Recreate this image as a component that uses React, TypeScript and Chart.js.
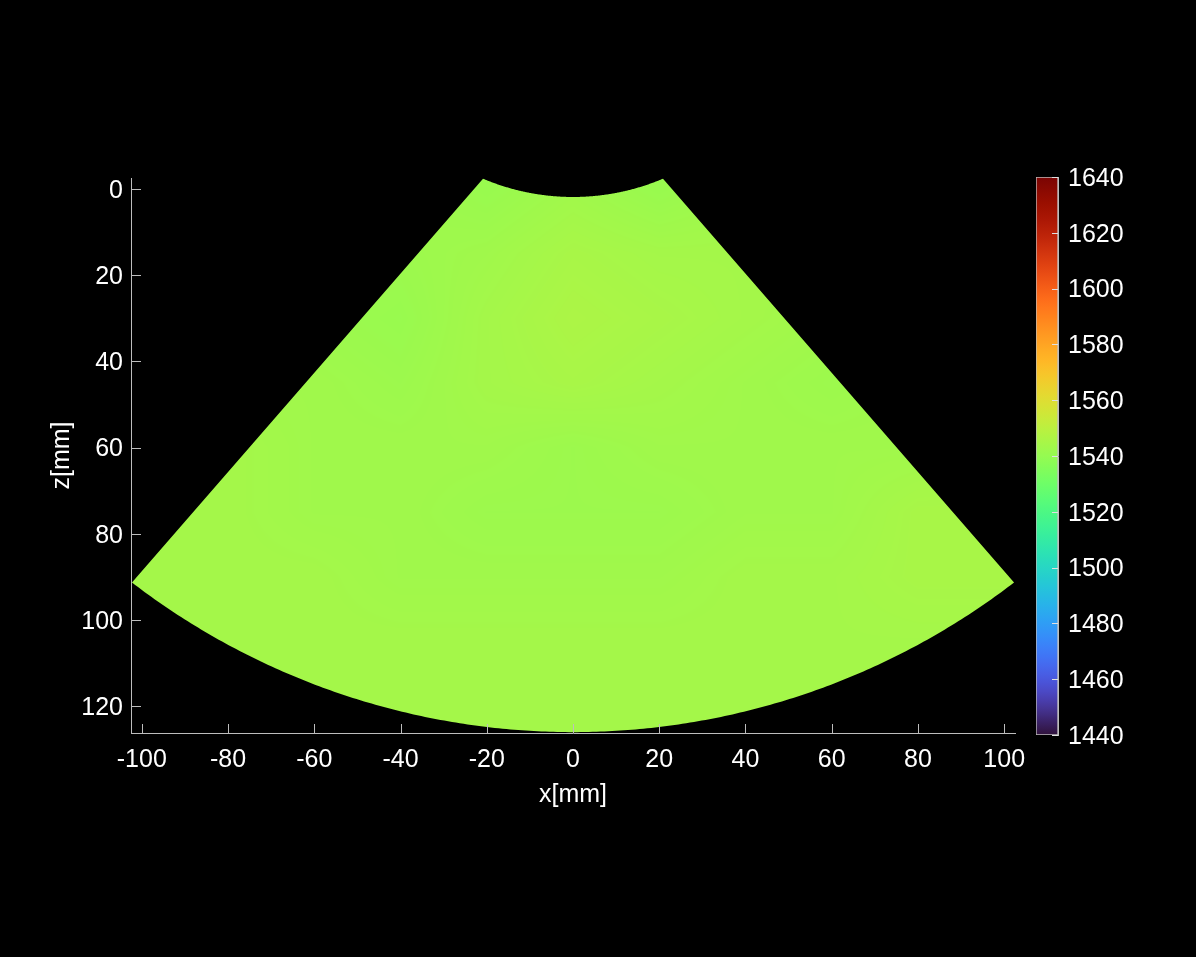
import React, { useEffect, useRef } from "react";
import { Chart, registerables } from "chart.js";

Chart.register(...registerables);

// ---------- data ----------
const xTicks = [-100, -80, -60, -40, -20, 0, 20, 40, 60, 80, 100];
const zTicks = [0, 20, 40, 60, 80, 100, 120];
const cbTicks = [1440, 1460, 1480, 1500, 1520, 1540, 1560, 1580, 1600, 1620, 1640];
const xLimits = [-102.5, 102.5];
const zLimits = [-2.5, 126.2];
const cLimits = [1440, 1640];

// speed-of-sound map (m/s), sampled on a coarse grid (mm)
const gridX = [-100, -80, -60, -40, -20, 0, 20, 40, 60, 80, 100];
const gridZ = [0, 15, 30, 45, 60, 75, 90, 105, 120];
const sosZ0 = [1544, 1544, 1544, 1543, 1541, 1543, 1541, 1543, 1544, 1544, 1544];
const sosZ15 = [1544, 1544, 1543, 1542, 1543, 1545, 1544, 1544, 1544, 1544, 1544];
const sosZ30 = [1544, 1543, 1542, 1541, 1544, 1546, 1545, 1544, 1543, 1544, 1544];
const sosZ45 = [1544, 1543, 1543, 1542, 1544, 1545, 1544, 1543, 1542, 1543, 1544];
const sosZ60 = [1544, 1544, 1543, 1543, 1543, 1542, 1543, 1543, 1543, 1543, 1544];
const sosZ75 = [1544, 1544, 1543, 1543, 1542, 1542, 1542, 1543, 1543, 1545, 1545];
const sosZ90 = [1544, 1544, 1544, 1543, 1543, 1543, 1543, 1544, 1544, 1545, 1545];
const sosZ105 = [1544, 1544, 1544, 1544, 1544, 1544, 1544, 1544, 1544, 1544, 1544];
const sosZ120 = [1544, 1544, 1544, 1544, 1544, 1544, 1544, 1544, 1544, 1544, 1544];
const sosRows = [sosZ0, sosZ15, sosZ30, sosZ45, sosZ60, sosZ75, sosZ90, sosZ105, sosZ120];

// imaging sector geometry (mm / degrees)
const fanApexZ = -26.35;
const fanHalfAngleDeg = 41.0;
const fanInnerArc = { centerZ: -51.6, radius: 53.5 };
const fanOuterArc = { centerZ: -42.1, radius: 168.1 };

// ---------- style ----------
const FONT = "'Liberation Sans', Arial, Helvetica, sans-serif";
const AXIS_COLOR = "#bdbdbd";
const TEXT_COLOR = "#ffffff";
const W = 1196;
const H = 957;

function clamp255(v: number) {
  return Math.max(0, Math.min(255, Math.round(v)));
}
function turboPoly(t: number): number[] {
  const r = 34.61 + t * (1172.33 - t * (10793.56 - t * (33300.12 - t * (38394.49 - t * 14825.05))));
  const g = 23.31 + t * (557.33 + t * (1225.33 - t * (3574.96 - t * (1073.77 + t * 707.56))));
  const b = 27.2 + t * (3211.1 - t * (15327.97 - t * (27814 - t * (22569.18 - t * 6838.66))));
  return [r, g, b];
}
function turbo(t: number): number[] {
  t = Math.max(0, Math.min(1, t));
  const lo = [48, 18, 59];
  const hi = [122, 4, 3];
  let c: number[];
  if (t < 0.05) {
    const p = turboPoly(0.05);
    const f = t / 0.05;
    c = lo.map((v, i) => v + (p[i] - v) * f);
  } else if (t > 0.95) {
    const p = turboPoly(0.95);
    const f = (t - 0.95) / 0.05;
    c = p.map((v, i) => v + (hi[i] - v) * f);
  } else c = turboPoly(t);
  return c.map(clamp255);
}
function colorFor(v: number) {
  return turbo((v - cLimits[0]) / (cLimits[1] - cLimits[0]));
}

function rayCircle(theta: number, arc: { centerZ: number; radius: number }) {
  const d = fanApexZ - arc.centerZ;
  const c = Math.cos(theta);
  const s = -d * c + Math.sqrt(d * d * c * c - d * d + arc.radius * arc.radius);
  return { x: s * Math.sin(theta), z: fanApexZ + s * c };
}

function fanOutline(): { x: number; z: number }[] {
  const n = 240;
  const th = (fanHalfAngleDeg * Math.PI) / 180;
  const pts: { x: number; z: number }[] = [];
  for (let i = 0; i <= n; i++) pts.push(rayCircle(-th + (2 * th * i) / n, fanInnerArc));
  for (let i = n; i >= 0; i--) pts.push(rayCircle(-th + (2 * th * i) / n, fanOuterArc));
  return pts;
}

// locate value v in a sorted axis: returns [index, fraction]
function locate(axis: number[], v: number): [number, number] {
  if (v <= axis[0]) return [0, 0];
  const n = axis.length - 1;
  if (v >= axis[n]) return [n - 1, 1];
  let i = 0;
  while (i < n - 1 && v > axis[i + 1]) i++;
  return [i, (v - axis[i]) / (axis[i + 1] - axis[i])];
}

const heatmapPlugin = {
  id: "sosHeatmap",
  beforeDatasetsDraw(chart: any) {
    const { ctx, scales, chartArea } = chart;
    const xs = scales.x;
    const ys = scales.y;
    const left = Math.floor(chartArea.left);
    const top = Math.floor(chartArea.top);
    const w = Math.ceil(chartArea.right) - left;
    const h = Math.ceil(chartArea.bottom) - top;
    const off = document.createElement("canvas");
    off.width = w;
    off.height = h;
    const octx = off.getContext("2d")!;
    const img = octx.createImageData(w, h);
    const cols = Array.from({ length: w }, (_, i) => locate(gridX, xs.getValueForPixel(left + i + 0.5)));
    const rows = Array.from({ length: h }, (_, j) => locate(gridZ, ys.getValueForPixel(top + j + 0.5)));
    for (let j = 0; j < h; j++) {
      const [zi, zf] = rows[j];
      const r0 = sosRows[zi];
      const r1 = sosRows[zi + 1];
      for (let i = 0; i < w; i++) {
        const [xi, xf] = cols[i];
        const a = r0[xi] + (r0[xi + 1] - r0[xi]) * xf;
        const b = r1[xi] + (r1[xi + 1] - r1[xi]) * xf;
        const [cr, cg, cb] = colorFor(a + (b - a) * zf);
        const k = (j * w + i) * 4;
        img.data[k] = cr;
        img.data[k + 1] = cg;
        img.data[k + 2] = cb;
        img.data[k + 3] = 255;
      }
    }
    octx.putImageData(img, 0, 0);

    ctx.save();
    ctx.beginPath();
    fanOutline().forEach((p, i) => {
      const px = xs.getPixelForValue(p.x);
      const py = ys.getPixelForValue(p.z);
      if (i === 0) ctx.moveTo(px, py);
      else ctx.lineTo(px, py);
    });
    ctx.closePath();
    ctx.clip();
    ctx.drawImage(off, left, top);
    ctx.restore();
  },
};

const inwardTicksPlugin = {
  id: "inwardTicks",
  afterDraw(chart: any) {
    const { ctx, scales, chartArea } = chart;
    ctx.save();
    ctx.strokeStyle = AXIS_COLOR;
    ctx.lineWidth = 1;
    ctx.beginPath();
    xTicks.forEach((v) => {
      const px = Math.round(scales.x.getPixelForValue(v)) + 0.5;
      ctx.moveTo(px, chartArea.bottom);
      ctx.lineTo(px, chartArea.bottom - 9);
    });
    zTicks.forEach((v) => {
      const py = Math.round(scales.y.getPixelForValue(v)) + 0.5;
      ctx.moveTo(chartArea.left, py);
      ctx.lineTo(chartArea.left + 10, py);
    });
    ctx.stroke();
    ctx.restore();
  },
};

const cbTicksPlugin = {
  id: "cbTicks",
  afterDraw(chart: any) {
    const { ctx, scales, chartArea } = chart;
    ctx.save();
    ctx.strokeStyle = "#e0e0e0";
    ctx.lineWidth = 1;
    ctx.beginPath();
    cbTicks.forEach((v) => {
      const py = Math.round(scales.y.getPixelForValue(v)) + 0.5;
      ctx.moveTo(chartArea.right, py);
      ctx.lineTo(chartArea.right - 6, py);
    });
    ctx.stroke();
    ctx.restore();
  },
};

// vertical-axis labels: empty first line with a tiny line height nudges the glyphs down ~2px
const yLabel = (v: any) => ["", String(v)];

export default function App() {
  const mainRef = useRef<HTMLCanvasElement>(null);
  const cbRef = useRef<HTMLCanvasElement>(null);

  useEffect(() => {
    const font = { family: FONT, size: 25 };
    const yFont = { family: FONT, size: 25, lineHeight: "4px" };
    const main = new Chart(mainRef.current!, {
      type: "scatter",
      data: { datasets: [{ data: [], pointRadius: 0 }] },
      plugins: [heatmapPlugin, inwardTicksPlugin],
      options: {
        animation: false,
        responsive: false,
        maintainAspectRatio: false,
        layout: { padding: { left: 0, right: W - 1015, top: 178, bottom: 0 } },
        plugins: { legend: { display: false }, tooltip: { enabled: false } },
        scales: {
          x: {
            type: "linear",
            position: "bottom",
            min: xLimits[0],
            max: xLimits[1],
            afterBuildTicks: (s: any) => {
              s.ticks = xTicks.map((v) => ({ value: v }));
            },
            afterFit: (s: any) => {
              s.height = H - 733;
            },
            grid: { display: false, drawTicks: false },
            border: { display: true, color: AXIS_COLOR, width: 1 },
            ticks: {
              color: TEXT_COLOR,
              font,
              padding: 12,
              maxRotation: 0,
              autoSkip: false,
              callback: (v: any) => String(v),
            },
            title: {
              display: true,
              text: "x[mm]",
              color: TEXT_COLOR,
              font,
              padding: { top: 147, bottom: 147 },
            },
          },
          y: {
            type: "linear",
            position: "left",
            reverse: true,
            min: zLimits[0],
            max: zLimits[1],
            afterBuildTicks: (s: any) => {
              s.ticks = zTicks.map((v) => ({ value: v }));
            },
            afterFit: (s: any) => {
              s.width = 131;
            },
            grid: { display: false, drawTicks: false },
            border: { display: true, color: AXIS_COLOR, width: 1 },
            ticks: {
              color: TEXT_COLOR,
              font: yFont,
              padding: 8,
              autoSkip: false,
              callback: yLabel,
            },
            title: {
              display: true,
              text: "z[mm]",
              color: TEXT_COLOR,
              font,
              padding: { top: 47, bottom: 47 },
            },
          },
        },
      } as any,
    });

    const cb = new Chart(cbRef.current!, {
      type: "bar",
      data: {
        labels: ["c"],
        datasets: [
          {
            data: [[cLimits[0], cLimits[1]]] as any,
            backgroundColor: (ctx: any) => {
              const area = ctx.chart.chartArea;
              if (!area) return "#000";
              const g = ctx.chart.ctx.createLinearGradient(0, area.bottom, 0, area.top);
              const n = 64;
              for (let i = 0; i <= n; i++) {
                const [r, gg, b] = turbo(i / n);
                g.addColorStop(i / n, `rgb(${r},${gg},${b})`);
              }
              return g;
            },
            borderColor: AXIS_COLOR,
            borderWidth: 1,
            borderSkipped: false,
            barPercentage: 1,
            categoryPercentage: 1,
          },
        ],
      },
      plugins: [cbTicksPlugin],
      options: {
        animation: false,
        responsive: false,
        maintainAspectRatio: false,
        layout: { padding: { left: 36, right: 0, top: 177, bottom: H - 735 } },
        plugins: { legend: { display: false }, tooltip: { enabled: false } },
        scales: {
          x: { display: false },
          y: {
            position: "right",
            min: cLimits[0],
            max: cLimits[1],
            afterBuildTicks: (s: any) => {
              s.ticks = cbTicks.map((v) => ({ value: v }));
            },
            afterFit: (s: any) => {
              s.width = 196 - 58;
            },
            grid: { display: false, drawTicks: false },
            border: { display: true, color: AXIS_COLOR, width: 1 },
            ticks: {
              color: TEXT_COLOR,
              font: yFont,
              padding: 10,
              autoSkip: false,
              callback: yLabel,
            },
          },
        },
      } as any,
    });

    return () => {
      main.destroy();
      cb.destroy();
    };
  }, []);

  return (
    <div
      style={{
        position: "fixed",
        left: 0,
        top: 0,
        width: W,
        height: H,
        background: "#000",
        overflow: "hidden",
      }}
    >
      <canvas
        ref={mainRef}
        width={W}
        height={H}
        style={{ position: "absolute", left: 0, top: 0, width: W, height: H }}
      />
      <canvas
        ref={cbRef}
        width={196}
        height={H}
        style={{ position: "absolute", left: 1000, top: 0, width: 196, height: H }}
      />
    </div>
  );
}
